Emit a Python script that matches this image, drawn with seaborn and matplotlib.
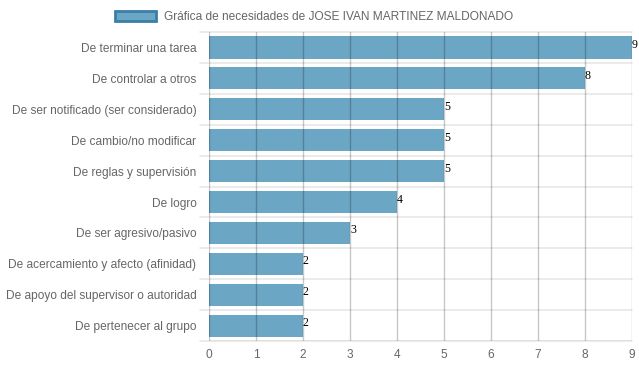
import matplotlib
matplotlib.use("Agg")
import matplotlib.pyplot as plt
import seaborn as sns
import pandas as pd
from matplotlib.patches import Patch

categories = [
    "De terminar una tarea",
    "De controlar a otros",
    "De ser notificado (ser considerado)",
    "De cambio/no modificar",
    "De reglas y supervisión",
    "De logro",
    "De ser agresivo/pasivo",
    "De acercamiento y afecto (afinidad)",
    "De apoyo del supervisor o autoridad",
    "De pertenecer al grupo",
]
values = [9, 8, 5, 5, 5, 4, 3, 2, 2, 2]
legend_label = "Gráfica de necesidades de JOSE IVAN MARTINEZ MALDONADO"

bar_color = "#6ba6c5"
edge_color = "#3a7fa8"
text_grey = "#666666"

sns.set_style("white")
plt.rcParams["font.family"] = ["Liberation Sans", "DejaVu Sans"]

df = pd.DataFrame({"necesidad": categories, "valor": values})

fig = plt.figure(figsize=(6.39, 3.72), dpi=100)
ax = fig.add_axes([0.327, 0.083, 0.662, 0.831])

sns.barplot(data=df, y="necesidad", x="valor", orient="h", color=bar_color,
            saturation=1, width=0.72, linewidth=0, ax=ax, zorder=2)

ax.set_xlim(0, 9)
ax.set_ylim(len(categories) - 0.5, -0.5)
ax.set_xticks(range(0, 10))
ax.set_xlabel("")
ax.set_ylabel("")

# grid: vertical lines at each tick, light horizontal separators between categories
for x in range(0, 10):
    ax.axvline(x, color="#000000", alpha=0.22, lw=1, zorder=3)
for y in [i - 0.5 for i in range(len(categories) + 1)]:
    ax.plot([-0.18, 9], [y, y], color="#e8e8e8", lw=1.2, zorder=1, clip_on=False)

for s in ax.spines.values():
    s.set_visible(False)
ax.axhline(len(categories) - 0.5, color="#bbbbbb", lw=1, zorder=3)

ax.tick_params(axis="both", length=0, labelsize=8.6, labelcolor=text_grey)
ax.tick_params(axis="y", pad=9)
ax.tick_params(axis="x", pad=6)

for i, v in enumerate(values):
    ax.text(v, i - 0.08, str(v), ha="left", va="center", fontsize=8.6,
            family=["Liberation Serif", "DejaVu Serif"], color="black", zorder=4)

handle = Patch(facecolor=bar_color, edgecolor=edge_color, linewidth=2)
fig.legend([handle], [legend_label], loc="upper center", bbox_to_anchor=(0.492, 1.0),
           frameon=False, fontsize=8.6, labelcolor=text_grey,
           handlelength=3.4, handleheight=1.0, handletextpad=0.7)

fig.savefig("out.png", dpi=100)
